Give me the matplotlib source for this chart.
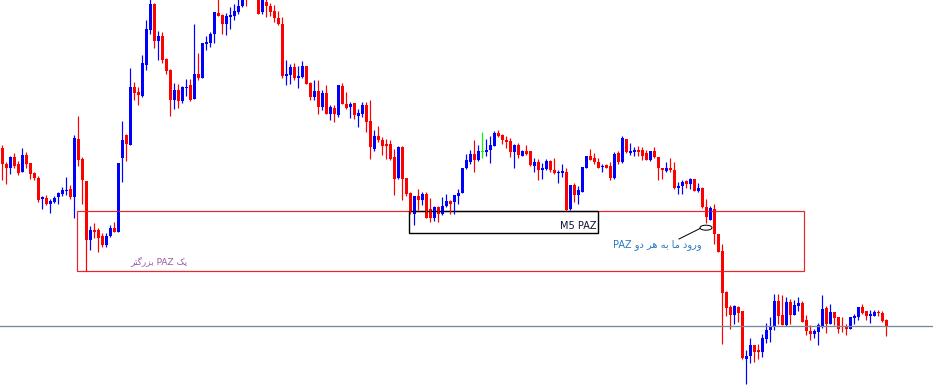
import matplotlib
matplotlib.use("Agg")
import matplotlib.pyplot as plt
from matplotlib.patches import Rectangle, Ellipse

# ---- data (screen-level units, larger = lower on chart) ----
opens = [148,164,168,157,164,172,155,163,173,178,199,198,204,202,197,194,191,189,197,139,
         159,181,240,230,230,236,245,236,228,232,158,135,145,87,92,96,65,30,4,41,
         36,59,70,100,90,101,88,85,99,74,78,44,43,34,13,15,24,17,16,12,
         6,-8,-4,-14,-6,12,2,6,11,18,24,76,75,67,78,77,66,83,97,91,
         107,93,114,108,115,86,104,107,103,116,114,105,121,149,136,140,144,144,157,178,
         147,178,193,214,196,200,194,209,218,207,214,206,201,202,196,193,168,162,154,160,
         151,152,150,146,133,135,140,141,152,145,156,151,151,166,162,170,169,161,170,173,
         173,172,209,185,195,192,168,156,158,162,167,165,166,178,153,162,139,153,152,150,
         150,153,160,151,157,168,171,168,170,188,186,181,184,179,191,188,207,220,209,234,
         251,292,307,315,307,311,359,356,345,350,352,339,330,327,301,315,325,302,315,306,
         303,320,331,334,332,327,308,324,312,317,326,326,329,318,317,307,311,316,316,312,
         313,320]
highs = [145,162,156,153,161,148,152,163,172,176,196,195,199,196,192,187,177,185,135,116,
         157,181,226,223,228,233,233,225,222,163,121,134,68,82,87,55,20,-2,3,31,
         32,58,69,83,84,86,79,79,24,53,43,36,32,12,-3,14,13,7,4,-2,
         -6,-12,-18,-20,-10,-6,-2,3,5,11,17,60,64,63,66,61,66,82,80,80,
         90,85,105,105,85,83,92,102,103,109,102,102,100,130,126,137,139,140,149,146,
         146,178,192,196,189,192,192,198,206,206,197,194,200,195,189,168,154,150,140,145,
         132,139,136,131,130,134,136,138,144,143,150,145,151,158,159,163,159,160,158,170,
         164,168,185,183,186,167,156,149,153,158,164,164,162,152,151,136,139,143,147,146,
         147,150,151,147,157,168,162,158,162,182,180,180,178,179,183,187,199,206,204,234,
         244,291,305,305,306,311,350,338,345,344,334,323,317,294,294,295,297,299,300,297,
         301,315,325,329,323,295,306,304,312,317,317,324,317,314,307,304,311,310,310,310,
         311,319]
lows = [180,184,174,168,175,172,168,179,180,202,209,205,213,203,204,196,195,199,218,166,
        204,271,250,238,252,247,247,237,232,232,182,161,145,100,105,97,70,34,48,60,
        63,74,116,109,108,103,96,101,99,80,78,50,47,43,16,34,35,29,20,14,
        7,6,-1,-2,14,14,17,16,22,25,78,85,84,80,88,78,84,100,100,114,
        110,114,120,122,117,104,109,118,119,127,117,132,159,151,142,155,159,160,195,179,
        200,196,214,225,210,205,218,222,221,222,215,207,214,214,204,193,169,164,172,161,
        158,156,163,146,137,144,148,157,168,158,156,155,166,172,180,179,170,172,174,183,
        177,211,210,202,204,192,168,160,164,168,172,168,180,179,164,163,153,155,156,156,
        160,160,161,158,180,179,172,172,189,194,194,188,189,191,192,208,223,220,244,252,
        344,316,329,324,322,359,384,363,362,359,357,343,342,330,324,325,326,324,315,311,
        322,335,340,338,345,328,333,324,325,333,332,335,329,324,320,314,320,323,316,316,
        322,336]
closes = [164,168,157,166,173,155,164,174,178,200,197,204,201,198,193,190,190,197,138,160,
          180,240,230,232,238,245,236,228,232,163,140,144,87,93,95,63,29,4,41,36,
          60,71,100,90,101,87,87,100,74,78,43,42,34,12,16,24,16,15,11,6,
          -2,-2,-14,-6,14,-2,6,12,18,24,76,74,67,78,76,66,84,97,91,107,
          93,114,107,114,85,104,108,104,115,113,105,122,147,136,140,146,146,159,179,147,
          179,194,212,196,200,194,218,218,207,214,206,201,204,195,193,168,160,154,160,151,
          151,150,145,133,136,140,142,152,145,155,151,154,165,162,170,168,161,170,173,172,
          171,210,185,195,190,167,156,160,162,168,166,168,178,154,162,138,152,151,150,152,
          156,160,151,157,168,170,168,170,188,186,182,184,179,191,188,207,217,208,234,252,
          293,308,315,306,313,358,356,345,352,352,338,330,326,301,316,325,302,315,305,303,
          322,331,334,331,325,309,324,312,318,329,327,329,317,316,307,313,316,314,312,313,
          321,326]

level_line = 326
big_box = dict(x0=18.7, x1=200.4, y0=211, y1=271)
m5_box = dict(x0=101.7, x1=148.9, y0=211, y1=233)

big_label = "یک PAZ بزرگتر"
m5_label = "M5 PAZ"
entry_label = "ورود ما به هر دو PAZ"

# ---- minimal Persian shaping (logical -> visual presentation forms) ----
FORMS = {  # isolated, final, initial, medial
    'ا': ('\uFE8D', '\uFE8E', None, None),
    'ب': ('\uFE8F', '\uFE90', '\uFE91', '\uFE92'),
    'ت': ('\uFE95', '\uFE96', '\uFE97', '\uFE98'),
    'د': ('\uFEA9', '\uFEAA', None, None),
    'ر': ('\uFEAD', '\uFEAE', None, None),
    'ز': ('\uFEAF', '\uFEB0', None, None),
    'م': ('\uFEE1', '\uFEE2', '\uFEE3', '\uFEE4'),
    'ه': ('\uFEE9', '\uFEEA', '\uFEEB', '\uFEEC'),
    'و': ('\uFEED', '\uFEEE', None, None),
    'ی': ('\uFBFC', '\uFBFD', '\uFBFE', '\uFBFF'),
    'ک': ('\uFB8E', '\uFB8F', '\uFB90', '\uFB91'),
    'گ': ('\uFB92', '\uFB93', '\uFB94', '\uFB95'),
}


def shape_word(w):
    if not any(ch in FORMS for ch in w):
        return w
    out = []
    for i, ch in enumerate(w):
        if ch not in FORMS:
            out.append(ch)
            continue
        prev = w[i - 1] if i > 0 else None
        nxt = w[i + 1] if i + 1 < len(w) else None
        jp = prev in FORMS and FORMS[prev][2] is not None
        jn = nxt in FORMS and FORMS[ch][2] is not None
        iso, fin, ini, med = FORMS[ch]
        if jp and jn:
            out.append(med)
        elif jp:
            out.append(fin)
        elif jn:
            out.append(ini)
        else:
            out.append(iso)
    return ''.join(out[::-1])


def rtl(text):
    return ' '.join(shape_word(w) for w in text.split(' ')[::-1])


# ---- figure ----
W, H, DPI = 933, 385, 100
fig = plt.figure(figsize=(W / DPI, H / DPI), dpi=DPI)
ax = fig.add_axes([0, 0, 1, 1])
ax.set_xlim(-0.575, (W - 2.3) / 4)
ax.set_ylim(H, 0)
ax.axis('off')

BULL, BEAR, DOJI = '#0000FF', '#FF0000', '#00FF00'
px = 72 / DPI
for i, (o, h, l, c) in enumerate(zip(opens, highs, lows, closes)):
    col = BULL if c < o else (BEAR if c > o else DOJI)
    ax.vlines(i, h, l, color=col, lw=1.2 * px)
    bottom = min(o, c)
    height = max(abs(c - o), 1)
    ax.bar(i, height, bottom=bottom, width=0.75, color=col, linewidth=0)

ax.axhline(level_line, color='#778899', lw=1.3 * px)

ax.add_patch(Rectangle((big_box['x0'], big_box['y0']), big_box['x1'] - big_box['x0'],
                       big_box['y1'] - big_box['y0'], fill=False, edgecolor='#E8262B',
                       lw=1.2 * px))
ax.add_patch(Rectangle((m5_box['x0'], m5_box['y0']), m5_box['x1'] - m5_box['x0'],
                       m5_box['y1'] - m5_box['y0'], fill=False, edgecolor='black',
                       lw=1.4 * px))

fam = ['DejaVu Sans', 'Noto Sans']
ax.text(148.5, 226, m5_label, fontsize=7, color='#101030', ha='right', va='center',
        family=fam)
ax.text((130 - 2.3) / 4, 261, rtl(big_label), fontsize=6.5, color='#9A5AA8', ha='left',
        va='center', family=fam)
ax.text((613 - 2.3) / 4, 245, rtl(entry_label), fontsize=7, color='#2A78BE', ha='left',
        va='center', family=fam)

ax.plot([(679 - 2.3) / 4, (700 - 2.3) / 4], [239, 228.5], color='black', lw=1.0 * px)
ax.add_patch(Ellipse(((706 - 2.3) / 4, 227.7), 12 / 4, 5, fill=False, edgecolor='black',
                     lw=1.0 * px))

fig.savefig('out.png', dpi=DPI, facecolor='white')
